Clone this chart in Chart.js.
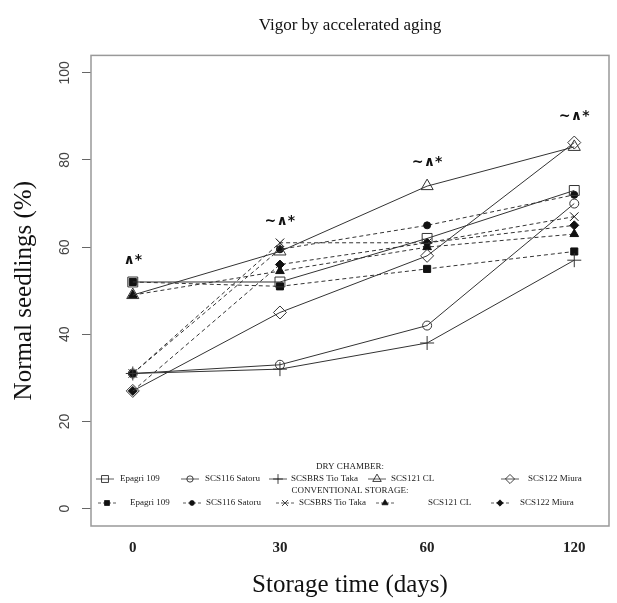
<!DOCTYPE html>
<html>
<head>
<meta charset="utf-8">
<script src="https://cdn.jsdelivr.net/npm/chart.js@4.4.1/dist/chart.umd.min.js"></script>
<style>
  html, body { margin: 0; padding: 0; background: #fff; }
  #wrap { width: 617px; height: 603px; }
</style>
</head>
<body>
<div id="wrap"><canvas id="myChart" width="617" height="603"></canvas></div>
<script>
const storageDays = ['0', '30', '60', '120'];
const cultivars = ['Epagri 109', 'SCS116 Satoru', 'SCSBRS Tio Taka', 'SCS121 CL', 'SCS122 Miura'];

// dry chamber (solid lines, open symbols)
const dryEpagri = [52, 52, 62, 73];
const drySatoru = [31, 33, 42, 70];
const dryTioTaka = [31, 32, 38, 57];
const dryCL = [49, 59, 74, 83];
const dryMiura = [27, 45, 58, 84];

// conventional storage (dashed lines, filled symbols)
const convEpagri = [52, 51, 55, 59];
const convSatoru = [31, 59.5, 65, 72];
const convTioTaka = [31, 61, 61, 67];
const convCL = [49, 54.5, 60, 63];
const convMiura = [27, 56, 61, 65];

// significance marks above each storage time
const signifText = ['\u2227*', '\u223C\u2227*', '\u223C\u2227*', '\u223C\u2227*'];
const signifY = [57, 66, 79.5, 90];

const yTicks = [0, 20, 40, 60, 80, 100];

const dryValues = [dryEpagri, drySatoru, dryTioTaka, dryCL, dryMiura];
const convValues = [convEpagri, convSatoru, convTioTaka, convCL, convMiura];
const dryStyles = ['rect', 'circle', 'cross', 'triangle', 'rectRot'];
const dryRadius = [7, 4.5, 7, 7, 6.5];
const convStyles = ['rect', 'circle', 'crossRot', 'triangle', 'rectRot'];
const convRadius = [5, 3.5, 6, 5, 4.5];

const lineColor = '#333';
const toPoints = arr => arr.map((v, i) => ({ x: i, y: v }));

const datasets = [];
cultivars.forEach((name, k) => {
    datasets.push({
        label: name + ' (dry chamber)',
        data: toPoints(dryValues[k]),
        borderColor: lineColor,
        borderWidth: 1,
        pointStyle: dryStyles[k],
        pointRadius: dryRadius[k],
        pointBorderColor: lineColor,
        pointBackgroundColor: 'transparent',
        pointBorderWidth: 1
    });
});
cultivars.forEach((name, k) => {
    datasets.push({
        label: name + ' (conventional storage)',
        data: toPoints(convValues[k]),
        borderColor: lineColor,
        borderWidth: 1,
        borderDash: [4, 3],
        pointStyle: convStyles[k],
        pointRadius: convRadius[k],
        pointBorderColor: '#111',
        pointBackgroundColor: '#111',
        pointBorderWidth: 1
    });
});

// frame, rotated y labels, significance marks and the in-plot legend
const extras = {
    id: 'extras',
    afterDatasetsDraw(chart) {
        const { ctx, chartArea: a, scales: { x, y } } = chart;
        ctx.save();

        // box round the plot
        ctx.strokeStyle = '#999';
        ctx.lineWidth = 1.5;
        ctx.strokeRect(a.left, a.top, a.right - a.left, a.bottom - a.top);

        // y tick labels, rotated like R
        ctx.fillStyle = '#444';
        ctx.font = '14px "Liberation Sans"';
        ctx.textAlign = 'center';
        ctx.textBaseline = 'middle';
        y.ticks.forEach(t => {
            ctx.save();
            ctx.translate(a.left - 26, y.getPixelForValue(t.value));
            ctx.rotate(-Math.PI / 2);
            ctx.fillText(String(t.value), 0, 0);
            ctx.restore();
        });

        // significance marks
        ctx.fillStyle = '#111';
        ctx.font = 'bold 14px "DejaVu Sans"';
        signifText.forEach((s, i) => {
            ctx.fillText(s, x.getPixelForValue(i), y.getPixelForValue(signifY[i]));
        });

        // legend
        const cx = (a.left + a.right) / 2;
        const rows = [
            { head: 'DRY CHAMBER:', off: 59, dash: [], styles: dryStyles, radius: dryRadius, fill: false,
              symX: [105, 190, 278, 377, 510], textX: [120, 205, 291, 391, 528] },
            { head: 'CONVENTIONAL STORAGE:', off: 35, dash: [3, 2], styles: convStyles, radius: convRadius, fill: true,
              symX: [107, 192, 285, 385, 500], textX: [130, 206, 299, 428, 520] }
        ];
        ctx.font = '9px "Liberation Serif"';
        rows.forEach(r => {
            const hy = a.bottom - r.off;
            const ry = hy + 12;
            ctx.fillStyle = '#222';
            ctx.textAlign = 'center';
            ctx.fillText(r.head, cx, hy);
            ctx.textAlign = 'left';
            cultivars.forEach((name, k) => {
                const sx = r.symX[k];
                ctx.strokeStyle = lineColor;
                ctx.lineWidth = 0.8;
                ctx.setLineDash(r.dash);
                ctx.beginPath();
                ctx.moveTo(sx - 9, ry);
                ctx.lineTo(sx + 9, ry);
                ctx.stroke();
                ctx.setLineDash([]);
                ctx.fillStyle = r.fill ? '#111' : 'rgba(0,0,0,0)';
                ctx.strokeStyle = '#111';
                Chart.helpers.drawPoint(ctx, {
                    pointStyle: r.styles[k],
                    radius: r.radius[k] * 0.7,
                    rotation: 0,
                    borderWidth: 0.8
                }, sx, ry);
                ctx.fillStyle = '#222';
                ctx.fillText(name, r.textX[k], ry);
            });
        });
        ctx.restore();
    }
};

const ctx = document.getElementById('myChart').getContext('2d');
const myChart = new Chart(ctx, {
    type: 'line',
    data: { datasets: datasets },
    options: {
        responsive: false,
        animation: false,
        layout: { padding: { left: 0, right: 5, top: 0, bottom: 0 } },
        plugins: {
            legend: { display: false },
            tooltip: { enabled: false },
            title: {
                display: true,
                text: 'Vigor by accelerated aging',
                fullSize: false,
                color: '#111',
                font: { family: '"Liberation Serif"', size: 17, weight: 'normal' },
                padding: { top: 15, bottom: 20 }
            }
        },
        scales: {
            x: {
                type: 'linear',
                min: -0.284,
                max: 3.236,
                afterBuildTicks: s => { s.ticks = storageDays.map((d, i) => ({ value: i })); },
                afterFit: s => { s.height = 77; },
                ticks: {
                    callback: v => storageDays[v],
                    color: '#222',
                    padding: 13,
                    maxRotation: 0,
                    font: { family: '"Liberation Serif"', size: 15, weight: 'bold' }
                },
                grid: { display: false, drawTicks: false },
                border: { display: false },
                title: {
                    display: true,
                    text: 'Storage time (days)',
                    color: '#111',
                    font: { family: '"Liberation Serif"', size: 25 },
                    padding: { top: 0, bottom: 3 }
                }
            },
            y: {
                type: 'linear',
                min: -4,
                max: 104,
                afterBuildTicks: s => { s.ticks = yTicks.map(v => ({ value: v })); },
                afterFit: s => { s.width = 91; },
                ticks: { display: false },
                grid: { drawOnChartArea: false, drawTicks: true, tickLength: 9, color: '#666' },
                border: { display: false },
                title: {
                    display: true,
                    text: 'Normal seedlings (%)',
                    color: '#111',
                    font: { family: '"Liberation Serif"', size: 25 },
                    padding: { top: 9, bottom: 0 }
                }
            }
        }
    },
    plugins: [extras]
});
</script>
</body>
</html>
